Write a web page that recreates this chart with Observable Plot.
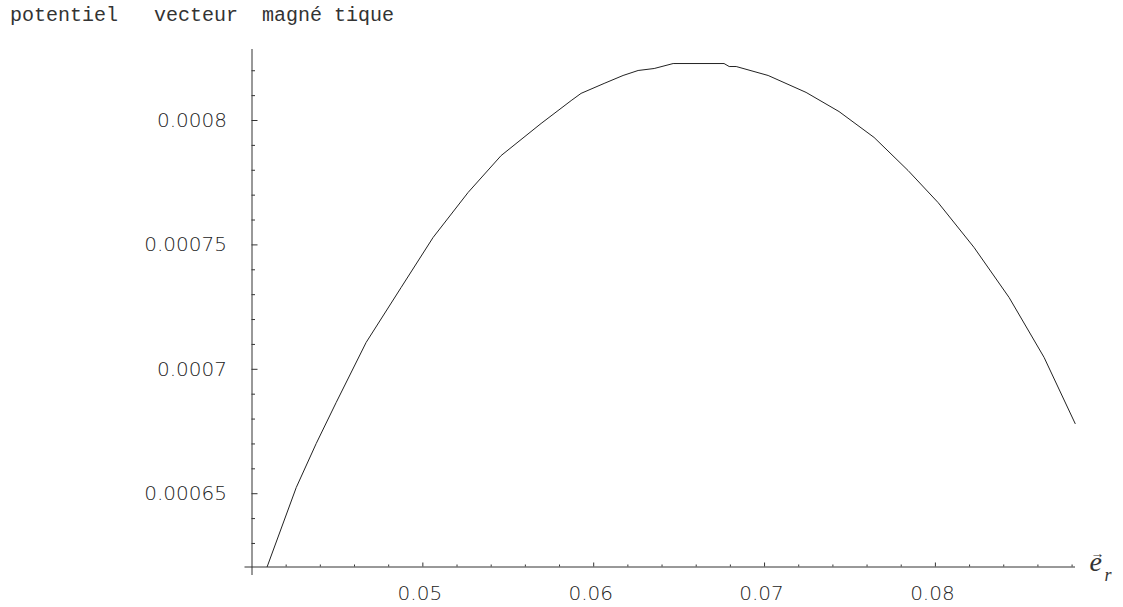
<!DOCTYPE html>
<html>
<head>
<meta charset="utf-8">
<script src="https://cdn.jsdelivr.net/npm/d3@7"></script>
<script src="https://cdn.jsdelivr.net/npm/@observablehq/plot@0.6"></script>
<style>
  html, body { margin: 0; padding: 0; background: #fff; }
  #title {
    height: 30px; box-sizing: border-box;
    padding: 6.4px 0 0 10px;
    font: 20px/20px "Liberation Mono", "DejaVu Sans Mono", monospace;
    color: #333; white-space: pre;
  }
</style>
</head>
<body>
<div id="title">potentiel   vecteur  magné tique</div>
<div id="chart"></div>
<script>
// ---- data ----
const radius = [0.04089, 0.04259, 0.04376, 0.04493, 0.04668, 0.04873, 0.05060, 0.05265,
  0.05458, 0.05692, 0.05868, 0.05926, 0.06061, 0.06172, 0.06260, 0.06354, 0.06465,
  0.06763, 0.06793, 0.06834, 0.07021, 0.07243, 0.07436, 0.07641, 0.07840, 0.08016,
  0.08226, 0.08431, 0.08636, 0.08818];
const potential = [0.0006207, 0.0006525, 0.0006702, 0.0006867, 0.0007108, 0.0007329,
  0.0007530, 0.0007711, 0.0007859, 0.0007988, 0.0008080, 0.0008109, 0.0008149,
  0.0008181, 0.0008201, 0.0008209, 0.0008229, 0.0008229, 0.0008217, 0.0008217,
  0.0008181, 0.0008113, 0.0008036, 0.0007932, 0.0007799, 0.0007670, 0.0007490,
  0.0007289, 0.0007048, 0.0006782];

const xDomain = [0.04, 0.0882];
const yDomain = [0.00062054, 0.00082854];

const xMajor = [0.05, 0.06, 0.07, 0.08];
const xTickLabels = ["0.05", "0.06", "0.07", "0.08"];
const xMinor = [0.042, 0.044, 0.046, 0.048, 0.052, 0.054, 0.056, 0.058,
  0.062, 0.064, 0.066, 0.068, 0.072, 0.074, 0.076, 0.078, 0.082, 0.084, 0.086, 0.088];

const yMajor = [0.00065, 0.0007, 0.00075, 0.0008];
const yTickLabels = ["0.00065", "0.0007", "0.00075", "0.0008"];
const yMinor = [0.00063, 0.00064, 0.00066, 0.00067, 0.00068, 0.00069,
  0.00071, 0.00072, 0.00073, 0.00074, 0.00076, 0.00077, 0.00078, 0.00079,
  0.00081, 0.00082];

const points = radius.map((r, i) => ({r, a: potential[i]}));

// ---- layout ----
const W = 1123, H = 577;
const mL = 251.5, mR = 48, mT = 19, mB = 40.5;
const frameW = W - mL - mR, frameH = H - mT - mB;
const ink = "#333";

const chart = Plot.plot({
  width: W, height: H,
  marginLeft: mL, marginRight: mR, marginTop: mT, marginBottom: mB,
  style: {fontFamily: "DejaVu Sans", fontSize: "20px", fontWeight: 300, color: "#222", background: "#fff"},
  x: {domain: xDomain, label: null},
  y: {domain: yDomain, label: null},
  marks: [
    // axis lines (Mathematica style, crossing at the origin)
    Plot.ruleX([xDomain[0]], {stroke: ink, strokeWidth: 1, insetBottom: -8.5}),
    Plot.ruleY([yDomain[0]], {stroke: ink, strokeWidth: 1, insetLeft: -7}),
    // inward ticks
    Plot.ruleX(xMajor, {stroke: ink, insetTop: frameH - 4}),
    Plot.ruleX(xMinor, {stroke: ink, insetTop: frameH - 2}),
    Plot.ruleY(yMajor, {stroke: ink, insetRight: frameW - 6}),
    Plot.ruleY(yMinor, {stroke: ink, insetRight: frameW - 3.5}),
    // tick labels
    Plot.axisX({ticks: xMajor, tickSize: 0, tickPadding: 18.5, dx: -3,
      tickFormat: d => xTickLabels[xMajor.indexOf(d)]}),
    Plot.axisY({ticks: yMajor, tickSize: 0, tickPadding: 25,
      tickFormat: d => yTickLabels[yMajor.indexOf(d)]}),
    // curve
    Plot.line(points, {x: "r", y: "a", stroke: "#222", strokeWidth: 1}),
    // axis label  e_r with vector arrow
    Plot.text(["e"], {frameAnchor: "bottom-right", textAnchor: "start", lineAnchor: "bottom",
      dx: 14, dy: 3.5, fontSize: 28, fontStyle: "italic", fontWeight: 400, fontFamily: "Liberation Serif", fill: ink}),
    Plot.text(["r"], {frameAnchor: "bottom-right", textAnchor: "start", lineAnchor: "bottom",
      dx: 29, dy: 13.5, fontSize: 18, fontStyle: "italic", fontWeight: 400, fontFamily: "Liberation Serif", fill: ink}),
    Plot.text(["→"], {frameAnchor: "bottom-right", textAnchor: "start", lineAnchor: "bottom",
      dx: 15, dy: -9, fontSize: 14, fontWeight: 400, fontFamily: "Liberation Serif", fill: ink})
  ]
});
document.getElementById("chart").appendChild(chart);
</script>
</body>
</html>
